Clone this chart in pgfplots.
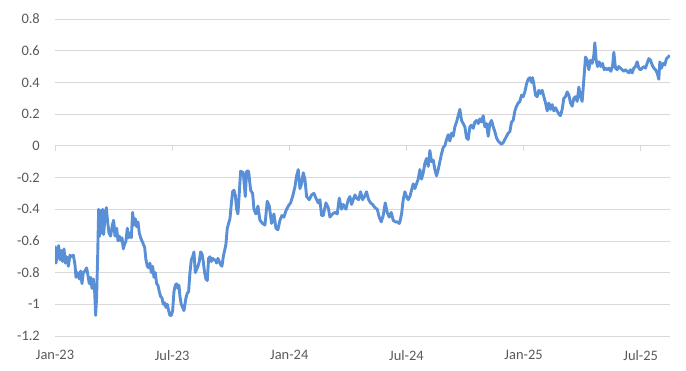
\documentclass[border=0pt]{standalone}
\usepackage{fontspec}
\setmainfont{Carlito}
\usepackage{pgfplots}
\usepackage{pgfplotstable}
\pgfplotsset{compat=1.18}
\definecolor{lineblue}{RGB}{88,143,214}
\definecolor{gridgray}{RGB}{217,217,217}
\definecolor{textgray}{RGB}{89,89,89}
% x = months since 1 Jan 2023
\pgfplotstableread{
x y
0.000 -0.63
0.051 -0.74
0.119 -0.68
0.188 -0.63
0.256 -0.72
0.324 -0.66
0.393 -0.73
0.461 -0.65
0.529 -0.74
0.597 -0.70
0.683 -0.76
0.768 -0.69
0.853 -0.70
0.939 -0.69
1.024 -0.75
1.075 -0.83
1.161 -0.80
1.246 -0.84
1.314 -0.79
1.382 -0.87
1.451 -0.80
1.536 -0.79
1.621 -0.77
1.690 -0.82
1.758 -0.87
1.826 -0.83
1.895 -0.90
1.963 -0.84
2.031 -0.92
2.082 -1.07
2.133 -0.95
2.185 -0.70
2.236 -0.40
2.287 -0.57
2.338 -0.41
2.389 -0.55
2.441 -0.40
2.492 -0.56
2.560 -0.45
2.628 -0.39
2.697 -0.48
2.765 -0.55
2.850 -0.57
2.936 -0.50
3.004 -0.47
3.072 -0.57
3.158 -0.52
3.226 -0.60
3.294 -0.57
3.362 -0.60
3.431 -0.58
3.499 -0.65
3.567 -0.62
3.635 -0.60
3.704 -0.52
3.772 -0.58
3.840 -0.55
3.909 -0.58
3.977 -0.42
4.045 -0.50
4.113 -0.46
4.182 -0.51
4.250 -0.48
4.318 -0.55
4.386 -0.58
4.455 -0.60
4.523 -0.62
4.591 -0.64
4.659 -0.72
4.728 -0.76
4.796 -0.77
4.864 -0.74
4.933 -0.80
5.001 -0.76
5.069 -0.83
5.137 -0.80
5.206 -0.87
5.274 -0.88
5.342 -0.92
5.410 -0.95
5.479 -0.96
5.547 -1.00
5.615 -0.99
5.684 -1.02
5.752 -1.00
5.820 -1.04
5.888 -1.07
5.957 -1.07
6.025 -1.04
6.093 -0.92
6.161 -0.88
6.230 -0.87
6.298 -0.90
6.349 -0.88
6.400 -0.95
6.469 -1.00
6.537 -1.02
6.605 -1.04
6.656 -1.00
6.708 -0.96
6.776 -0.93
6.844 -0.92
6.912 -0.80
6.981 -0.72
7.049 -0.70
7.117 -0.67
7.186 -0.80
7.254 -0.78
7.322 -0.76
7.390 -0.73
7.459 -0.67
7.527 -0.68
7.595 -0.73
7.663 -0.80
7.732 -0.84
7.800 -0.85
7.868 -0.71
7.937 -0.70
8.005 -0.73
8.073 -0.71
8.141 -0.72
8.210 -0.72
8.278 -0.74
8.346 -0.71
8.414 -0.73
8.483 -0.75
8.551 -0.76
8.619 -0.70
8.688 -0.66
8.756 -0.62
8.824 -0.52
8.892 -0.49
8.961 -0.46
9.029 -0.37
9.097 -0.29
9.165 -0.28
9.234 -0.31
9.302 -0.40
9.370 -0.43
9.438 -0.30
9.507 -0.16
9.643 -0.17
9.746 -0.32
9.814 -0.16
9.916 -0.16
10.019 -0.28
10.121 -0.30
10.189 -0.40
10.292 -0.43
10.394 -0.38
10.497 -0.47
10.633 -0.49
10.753 -0.50
10.872 -0.35
10.975 -0.38
11.094 -0.49
11.213 -0.43
11.316 -0.52
11.418 -0.53
11.521 -0.47
11.623 -0.44
11.726 -0.45
11.828 -0.41
11.947 -0.38
12.067 -0.36
12.169 -0.32
12.289 -0.26
12.374 -0.19
12.459 -0.15
12.545 -0.27
12.630 -0.24
12.716 -0.17
12.801 -0.21
12.886 -0.32
13.023 -0.34
13.142 -0.31
13.262 -0.30
13.364 -0.33
13.484 -0.36
13.569 -0.34
13.654 -0.44
13.740 -0.44
13.876 -0.36
13.996 -0.39
14.081 -0.45
14.217 -0.43
14.337 -0.42
14.456 -0.43
14.559 -0.33
14.678 -0.40
14.764 -0.37
14.900 -0.40
15.020 -0.34
15.105 -0.32
15.190 -0.37
15.276 -0.34
15.361 -0.31
15.446 -0.33
15.549 -0.34
15.651 -0.29
15.754 -0.34
15.856 -0.32
15.958 -0.29
16.061 -0.34
16.163 -0.36
16.266 -0.37
16.385 -0.39
16.504 -0.40
16.607 -0.45
16.709 -0.48
16.812 -0.44
16.914 -0.36
17.016 -0.42
17.119 -0.45
17.221 -0.42
17.324 -0.47
17.426 -0.48
17.529 -0.48
17.631 -0.49
17.665 -0.48
17.751 -0.43
17.836 -0.34
17.921 -0.29
18.006 -0.32
18.092 -0.34
18.177 -0.32
18.262 -0.28
18.348 -0.24
18.433 -0.27
18.518 -0.24
18.604 -0.21
18.689 -0.15
18.774 -0.21
18.860 -0.17
18.945 -0.11
19.030 -0.08
19.116 -0.13
19.201 -0.03
19.286 -0.10
19.372 -0.09
19.457 -0.15
19.543 -0.19
19.628 -0.15
19.713 -0.10
19.799 -0.05
19.884 -0.01
19.969 0.00
20.055 0.04
20.140 0.07
20.225 0.03
20.311 0.08
20.396 0.06
20.481 0.12
20.567 0.15
20.652 0.19
20.737 0.23
20.823 0.16
20.908 0.14
20.993 0.12
21.079 0.05
21.164 0.04
21.249 0.12
21.335 0.13
21.420 0.11
21.505 0.15
21.591 0.16
21.676 0.14
21.761 0.17
21.847 0.15
21.932 0.19
22.017 0.12
22.103 0.14
22.188 0.06
22.273 0.14
22.359 0.16
22.444 0.12
22.529 0.09
22.615 0.05
22.700 0.03
22.785 0.02
22.871 0.01
22.956 0.02
23.041 0.04
23.127 0.06
23.212 0.08
23.297 0.09
23.383 0.15
23.468 0.16
23.554 0.22
23.639 0.25
23.724 0.27
23.810 0.28
23.895 0.32
23.980 0.31
24.066 0.34
24.151 0.39
24.236 0.42
24.322 0.43
24.407 0.40
24.458 0.43
24.526 0.39
24.612 0.32
24.697 0.31
24.782 0.35
24.868 0.33
24.953 0.35
25.039 0.31
25.124 0.27
25.209 0.22
25.295 0.27
25.380 0.23
25.465 0.26
25.551 0.22
25.636 0.24
25.721 0.22
25.807 0.20
25.892 0.19
25.977 0.23
26.063 0.30
26.148 0.31
26.233 0.34
26.319 0.32
26.404 0.27
26.489 0.25
26.575 0.30
26.660 0.31
26.745 0.28
26.831 0.37
26.916 0.31
27.001 0.28
27.087 0.42
27.172 0.56
27.257 0.54
27.343 0.48
27.428 0.54
27.513 0.52
27.598 0.57
27.650 0.65
27.718 0.54
27.786 0.50
27.872 0.53
27.957 0.50
28.042 0.52
28.128 0.48
28.213 0.49
28.298 0.48
28.384 0.49
28.469 0.47
28.554 0.50
28.623 0.59
28.708 0.49
28.793 0.48
28.879 0.50
28.964 0.49
29.049 0.48
29.135 0.47
29.220 0.48
29.305 0.47
29.391 0.46
29.476 0.48
29.561 0.46
29.647 0.49
29.732 0.50
29.817 0.53
29.903 0.49
29.988 0.48
30.073 0.49
30.159 0.50
30.244 0.49
30.329 0.52
30.415 0.55
30.500 0.54
30.586 0.51
30.671 0.49
30.756 0.48
30.842 0.46
30.927 0.42
30.978 0.53
31.063 0.49
31.149 0.52
31.234 0.51
31.319 0.55
31.405 0.56
31.490 0.57
}\series

\begin{document}
\begin{tikzpicture}
\path[use as bounding box] (-55bp,-35bp) rectangle (631bp,336bp);
\begin{axis}[
  at={(0,0)}, anchor=south west,
  scale only axis, width=615bp, height=317bp,
  xmin=0, xmax=31.5, ymin=-1.2, ymax=0.8,
  xtick={0,6,12,18,24,30},
  xticklabels={Jan-23,Jul-23,Jan-24,Jul-24,Jan-25,Jul-25},
  ytick={-1.2,-1,-0.8,-0.6,-0.4,-0.2,0,0.2,0.4,0.6,0.8},
  yticklabels={-1.2,-1,-0.8,-0.6,-0.4,-0.2,0,0.2,0.4,0.6,0.8},
  xmajorgrids=false,
  ymajorgrids=true,
  grid style={gridgray, line width=0.8pt},
  axis line style={draw=none},
  major tick length=0pt,
  tick style={draw=none},
  ticklabel style={font=\fontsize{14.5}{16}\selectfont, text=textgray, inner sep=0pt},
  xticklabel style={anchor=north, yshift=-14bp},
  yticklabel style={anchor=east, xshift=-15bp},
]
\pgfplotsinvokeforeach{0,6,12,18,24,30}{
  \draw[gridgray, line width=0.8pt] (axis cs:#1,0) -- (axis cs:#1,-0.032);
}
\addplot[lineblue, line width=2.9pt, line join=round] table[x=x, y=y] {\series};
\end{axis}
\end{tikzpicture}
\end{document}
